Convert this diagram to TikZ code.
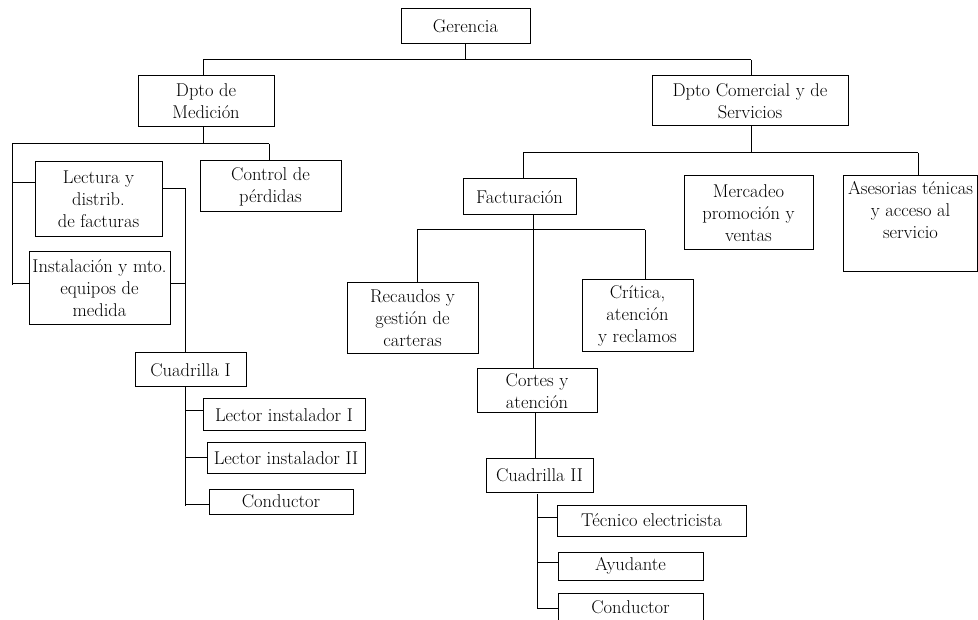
\documentclass[tikz,border=0pt]{standalone}
\begin{document}
\begin{tikzpicture}[x=1pt,y=-1pt,
  box/.style={draw, line width=1pt, align=center, inner sep=1pt, font=\fontsize{18.5}{22}\selectfont},
  txt/.style={align=center, inner sep=0pt, font=\fontsize{18.5}{22}\selectfont},
  conn/.style={line width=1pt}]
\useasboundingbox (0,0) rectangle (978,620);
\clip (0,0) rectangle (978,620);
% nodes
\node[box, minimum width=129, minimum height=35] (ger) at (465.5,26.5) {Gerencia};
\node[box, minimum width=136, minimum height=51] (med) at (206,101.5) {Dpto de\\Medición};
\node[box, minimum width=196, minimum height=50] (com) at (750,101) {Dpto Comercial y de\\Servicios};
\node[box, minimum width=141, minimum height=51] (ctrl) at (270.5,186.5) {Control de\\pérdidas};
\node[box, minimum width=127, minimum height=75] (lect) at (98.5,199.5) {Lectura y\\distrib.\\de facturas};
\node[box, minimum width=141, minimum height=73] (inst) at (99.5,288.5) {Instalación y mto.\\equipos de\\medida};
\node[box, minimum width=111, minimum height=34] (cua1) at (190.5,370) {Cuadrilla I};
\node[box, minimum width=162, minimum height=32] (li1) at (284,415) {Lector instalador I};
\node[box, minimum width=158, minimum height=30] (li2) at (286,458) {Lector instalador II};
\node[box, minimum width=144, minimum height=25] (cond1) at (281,501.5) {Conductor};
\node[box, minimum width=113, minimum height=36] (fact) at (519.5,197) {Facturación};
\node[box, minimum width=129, minimum height=74] (merc) at (748.5,213) {Mercadeo\\promoción y\\ventas};
\node[box, minimum width=134, minimum height=96] (ases) at (910,224) {};
\node[txt] (asesT) at (910.5,210) {Asesorias ténicas\\y acceso al\\servicio};
\node[box, minimum width=131, minimum height=71] (rec) at (412.5,318.5) {Recaudos y\\gestión de\\carteras};
\node[box, minimum width=111, minimum height=72] (crit) at (637.5,316) {Crítica,\\atención\\y reclamos};
\node[box, minimum width=120, minimum height=44] (cort) at (537,391) {Cortes y\\atención};
\node[box, minimum width=107, minimum height=34] (cua2) at (539.5,475) {Cuadrilla II};
\node[box, minimum width=189, minimum height=31] (tec) at (651.5,520.5) {Técnico electricista};
\node[box, minimum width=145, minimum height=28] (ayu) at (630.5,566) {Ayudante};
\node[box, minimum width=145, minimum height=29] (cond2) at (630.5,607.5) {Conductor};
% bus coordinates
\coordinate (busA) at (203,60);
\coordinate (busB) at (12,144);
\coordinate (rb) at (185,0);
\coordinate (busC) at (523,153);
\coordinate (busD) at (417,230);
\coordinate (vf) at (533,0);
\coordinate (v2) at (537,0);
% level 1
\draw[conn] (ger.south) -- (ger.south |- busA);
\draw[conn] (busA) -- (751,60) coordinate (busAr);
\draw[conn] (busA) -- (busA |- med.north);
\draw[conn] (busAr) -- (busAr |- com.north);
% Medicion
\draw[conn] (busA |- med.south) -- (busA |- busB);
\draw[conn] (busB) -- (269,144) coordinate (busBr);
\draw[conn] (busBr) -- (busBr |- ctrl.north);
\draw[conn] (busB) -- (12,285) coordinate (busBe);
\draw[conn] (busB |- 0,183) -- (lect.west |- 0,183);
\draw[conn] (busB |- 0,284) -- (inst.west |- 0,284);
\draw[conn] (lect.east |- 0,189) -- (rb |- 0,189) -- (rb |- cua1.north);
\draw[conn] (inst.east |- 0,284) -- (rb |- 0,284);
% Cuadrilla I
\draw[conn] (rb |- cua1.south) -- (rb |- 0,506);
\draw[conn] (rb |- 0,411) -- (li1.west |- 0,411);
\draw[conn] (rb |- 0,457) -- (li2.west |- 0,457);
\draw[conn] (rb |- 0,504) -- (cond1.west |- 0,504);
% Comercial
\draw[conn] (busAr |- com.south) -- (busAr |- busC);
\draw[conn] (busC) -- (918,153) coordinate (busCr);
\draw[conn] (busC) -- (busC |- fact.north);
\draw[conn] (busCr) -- (busCr |- ases.north);
% Facturacion
\draw[conn] (vf |- fact.south) -- (vf |- cort.north);
\draw[conn] (busD) -- (645,230) coordinate (busDr);
\draw[conn] (busD) -- (busD |- rec.north);
\draw[conn] (busDr) -- (busDr |- crit.north);
% Cortes
\draw[conn] (535,413) coordinate (cb) -- (cb |- cua2.north);
\draw[conn] (v2 |- 0,494) -- (v2 |- 0,608);
\draw[conn] (v2 |- 0,517) -- (tec.west |- 0,517);
\draw[conn] (v2 |- 0,562) -- (ayu.west |- 0,562);
\draw[conn] (v2 |- 0,608) -- (cond2.west |- 0,608);
\end{tikzpicture}
\end{document}
